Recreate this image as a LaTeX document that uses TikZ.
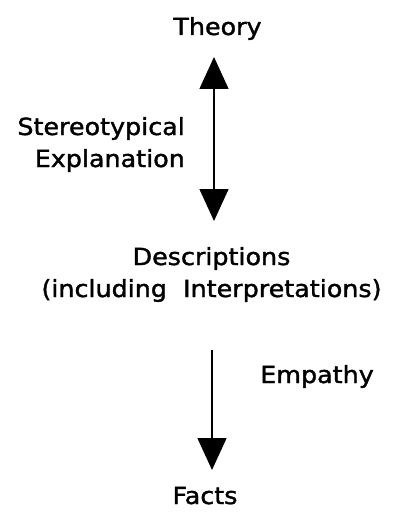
\documentclass[tikz,border=0pt]{standalone}
\usepackage{fontspec}
\setmainfont[FakeStretch=1.08,FakeBold=1.5]{DejaVu Sans}
\usetikzlibrary{arrows.meta}
\begin{document}
\begin{tikzpicture}[x=1pt,y=-1pt,
  lbl/.style={inner sep=0pt, font=\fontsize{23.5}{32}\selectfont},
  link/.style={line width=1.4pt, -{Triangle[length=32pt,width=29pt]}},
  twoway/.style={line width=1.4pt, {Triangle[length=32pt,width=29pt]}-{Triangle[length=32pt,width=29pt]}}]
\useasboundingbox (0,0) rectangle (397,513);

% labels (multi-line nodes sit on the baseline of their last line)
\node[lbl, anchor=base] (theory) at (217.5,35) {Theory};
\node[lbl, anchor=base east, align=right] (stereo) at (185,167) {Stereotypical\\Explanation};
\node[lbl, anchor=base, align=center] (desc) at (211.5,297) {Descriptions\\(including~~Interpretations)};
\node[lbl, anchor=base] (emp) at (317,383) {Empathy};
\node[lbl, anchor=base] (facts) at (205,504) {Facts};

% arrow ends
\coordinate (t1) at (214,57);
\coordinate (b1) at (214,221);
\coordinate (t2) at (212,350);
\coordinate (b2) at (212,470);

% connectors
\draw[twoway] (t1) -- (b1);
\draw[link] (t2) -- (b2);
\end{tikzpicture}
\end{document}
